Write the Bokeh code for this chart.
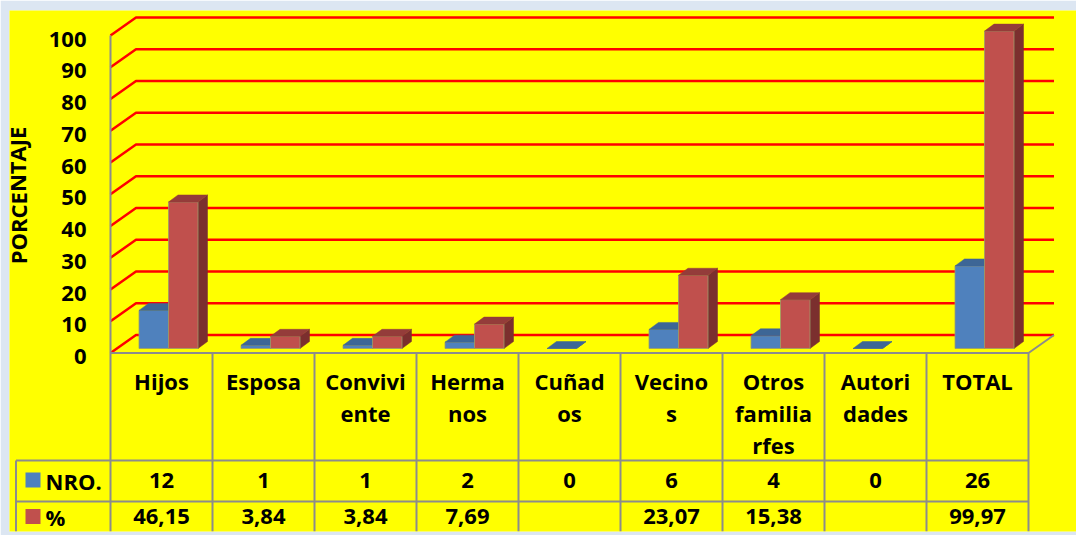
from bokeh.plotting import figure
from bokeh.models import Range1d
from bokeh.core.properties import value
from bokeh.embed import file_html
from bokeh.resources import INLINE

# ---------------- data ----------------
categories = ["Hijos", "Esposa", "Conviviente", "Hermanos", "Cuñados",
              "Vecinos", "Otros familiarfes", "Autoridades", "TOTAL"]
category_lines = [["Hijos"], ["Esposa"], ["Convivi", "ente"], ["Herma", "nos"],
                  ["Cuñad", "os"], ["Vecino", "s"], ["Otros", "familia", "rfes"],
                  ["Autori", "dades"], ["TOTAL"]]
nro = [12, 1, 1, 2, 0, 6, 4, 0, 26]
pct = [46.15, 3.84, 3.84, 7.69, None, 23.07, 15.38, None, 99.97]
y_ticks = [0, 10, 20, 30, 40, 50, 60, 70, 80, 90, 100]
series_names = ["NRO.", "%"]
axis_title = "PORCENTAJE"

# ---------------- style / geometry ----------------
PX_X = 102.0     # pixels per category
PX_Y = 3.175     # pixels per percent unit
def ux(px): return px / PX_X
def uy(px): return px / PX_Y

FONT = value("Open Sans")
YELLOW = "#ffff00"
PAGE_BG = "#dce6f2"
GRID_RED = "#ff0000"
GRAY = "#8c8c8c"
BLUE = ("#4f81bd", "#3d6696", "#345780")   # front, top, side
RED = ("#c0504d", "#943c3a", "#7b2f2e")

N = len(categories)
DX, DY = ux(25.5), uy(18)          # wall depth
BASE = uy(4.5)                     # bars' baseline above front floor
SX = ux(7)                         # bars' horizontal depth shift
BW = ux(29.5)                      # bar width
BDX, BDY = ux(9.5), uy(7)          # bar depth
TXT = 8                            # text baseline correction (px)

W, H = 1076, 535
BL, BT, BR, BB = 9, 10, 0, 4
x0_px, frame_left, frame_right = 110, BL, W - BR
y0_px, frame_top, frame_bottom = 352.5, BT, H - BB

def yb(px):
    """data y of a text baseline wanted at page pixel px"""
    return uy(y0_px - px + TXT)

p = figure(width=W, height=H,
           x_range=Range1d(ux(frame_left - x0_px), ux(frame_right - x0_px)),
           y_range=Range1d(uy(y0_px - frame_bottom), uy(y0_px - frame_top)),
           output_backend="svg", toolbar_location=None,
           min_border_left=BL, min_border_top=BT, min_border_right=BR, min_border_bottom=BB,
           background_fill_color=YELLOW, border_fill_color=PAGE_BG)
p.axis.visible = False
p.grid.visible = False
p.outline_line_color = None

# ---------------- gridlines (side wall + back wall) ----------------
gx = [[0, DX, N + DX] for t in y_ticks]
gy = [[t, t + DY, t + DY] for t in y_ticks]
p.multi_line(gx, gy, line_color=GRID_RED, line_width=2.5)

# floor front / right edges, axis line
p.line([0, N, N + DX], [0, 0, DY], line_color=GRAY, line_width=2)
p.line([0, 0], [y_ticks[-1], uy(y0_px - frame_bottom)], line_color=GRAY, line_width=2)

# ---------------- 3D bars ----------------
def draw_series(vals, offset, colors):
    fl, fr, fb, ft = [], [], [], []
    txs, tys, sxs, sys_ = [], [], [], []
    for i, v in enumerate(vals):
        if v is None:
            continue
        c = i + 0.5 + SX
        l = c + offset
        r = l + BW
        top = BASE + v
        fl.append(l); fr.append(r); fb.append(BASE); ft.append(top)
        txs.append([l, r, r + BDX, l + BDX]); tys.append([top, top, top + BDY, top + BDY])
        sxs.append([r, r + BDX, r + BDX, r]); sys_.append([BASE, BASE + BDY, top + BDY, top])
    p.patches(sxs, sys_, fill_color=colors[2], line_color=colors[2], line_width=0.5)
    p.quad(left=fl, right=fr, bottom=fb, top=ft, fill_color=colors[0],
           line_color="#9c9c6a", line_width=0.8)
    p.patches(txs, tys, fill_color=colors[1], line_color=colors[1], line_width=0.5)

draw_series(nro, -BW, BLUE)
draw_series(pct, 0, RED)

# ---------------- y tick labels & title ----------------
p.text(x=[ux(86 - x0_px)] * len(y_ticks), y=[t - uy(11.5 - TXT) for t in y_ticks],
       text=[str(t) for t in y_ticks], text_font=FONT, text_font_style="bold",
       text_font_size="22px", text_align="right", text_baseline="alphabetic",
       text_color="black")
p.text(x=[ux(17 - x0_px)], y=[uy(y0_px - 195)], text=[axis_title], angle=1.5708,
       text_font=FONT, text_font_style="bold", text_font_size="22px",
       text_align="center", text_baseline="middle", text_color="black")

# ---------------- data table ----------------
row1_top = uy(y0_px - 460)
row2_top = uy(y0_px - 501)
ybot = uy(y0_px - frame_bottom)
left_edge = ux(15.5 - x0_px)
txs = [[k, k] for k in range(1, N + 1)]
tys = [[0, ybot] for k in range(1, N + 1)]
txs += [[left_edge, N], [left_edge, N], [left_edge, left_edge]]
tys += [[row1_top, row1_top], [row2_top, row2_top], [row1_top, ybot]]
p.multi_line(txs, tys, line_color=GRAY, line_width=2)

lx, ly, lt = [], [], []
for i, lines in enumerate(category_lines):
    for j, s in enumerate(lines):
        lx.append(i + 0.5)
        ly.append(yb(388) - j * uy(32))
        lt.append(s)
p.text(x=lx, y=ly, text=lt, text_font=FONT, text_font_style="bold",
       text_font_size="22px", text_align="center", text_baseline="alphabetic",
       text_color="black")

row1_base = yb(488)
row2_base = yb(524)
p.text(x=[i + 0.5 for i in range(N)], y=[row1_base] * N, text=[str(v) for v in nro],
       text_font=FONT, text_font_style="bold", text_font_size="22px",
       text_align="center", text_baseline="alphabetic", text_color="black")
pct_labels = ["" if v is None else f"{v:.2f}".replace(".", ",") for v in pct]
p.text(x=[i + 0.5 for i in range(N)], y=[row2_base] * N, text=pct_labels,
       text_font=FONT, text_font_style="bold", text_font_size="22px",
       text_align="center", text_baseline="alphabetic", text_color="black")

# legend keys inside the table
p.scatter(x=[ux(32.5 - x0_px)] * 2, y=[uy(y0_px - 479.5), uy(y0_px - 516)],
          marker="square", size=15, fill_color=[BLUE[0], RED[0]], line_color=None)
p.text(x=[ux(45 - x0_px)] * 2, y=[row1_base, row2_base], text=series_names,
       text_font=FONT, text_font_style="bold", text_font_size="22px",
       text_align="left", text_baseline="alphabetic", text_color="black")

html = file_html(p, INLINE)
html = html.replace("<body>", '<body style="background-color:%s;">' % PAGE_BG, 1)
open("out.html", "w").write(html)
